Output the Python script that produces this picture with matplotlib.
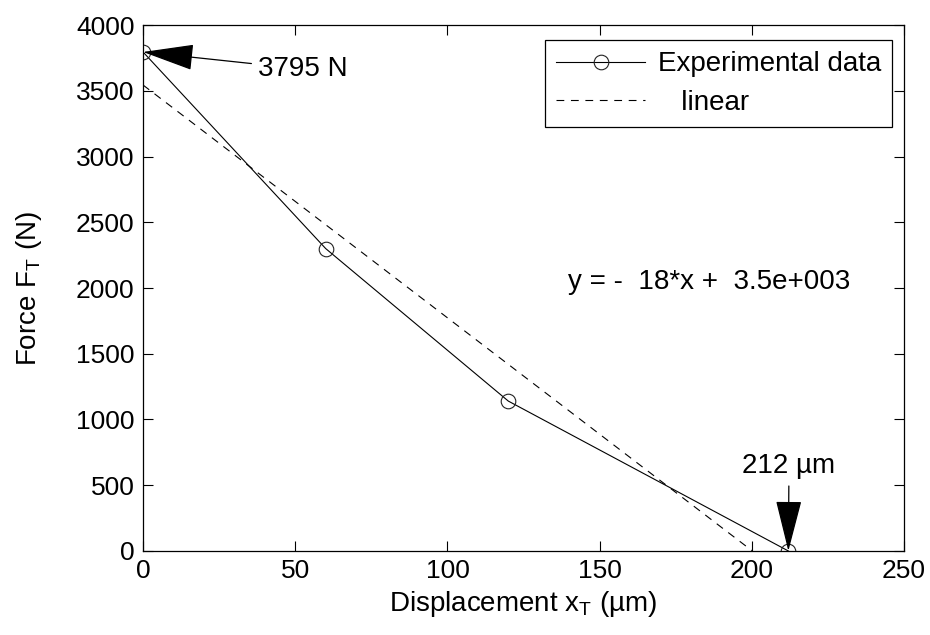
import matplotlib

matplotlib.use("Agg")
import matplotlib.pyplot as plt
import numpy as np

plt.rcParams["font.family"] = ["Liberation Sans", "DejaVu Sans"]
plt.rcParams["mathtext.fontset"] = "custom"
plt.rcParams["mathtext.rm"] = "Liberation Sans"
plt.rcParams["mathtext.it"] = "Liberation Sans"

# measured points
disp_um = [0, 60, 120, 212]
force_n = [3795, 2300, 1140, 0]

# linear fit is drawn only up to where it hits zero
fit_x_range = [0, 200]
fit_text = "y = -  18*x +  3.5e+003"

x_ticks = [0, 50, 100, 150, 200, 250]
y_ticks = [0, 500, 1000, 1500, 2000, 2500, 3000, 3500, 4000]

FS = 20
TICK_FS = 19

fig = plt.figure(figsize=(9.3, 6.35), dpi=100)
ax = fig.add_axes([0.1538, 0.1323, 0.8183, 0.8283])

ax.plot(disp_um, force_n, color="black", lw=0.8, marker="o", ms=10.5,
        mfc="none", mec="#222222", mew=0.8, label="Experimental data")

coef = np.polyfit(disp_um, force_n, 1)
fx = np.linspace(fit_x_range[0], fit_x_range[1], 50)
ax.plot(fx, np.polyval(coef, fx), color="black", lw=0.8,
        linestyle=(0, (7, 6)), label="   linear")

ax.set_xlim(0, 250)
ax.set_ylim(0, 4000)
ax.set_xticks(x_ticks)
ax.set_yticks(y_ticks)
ax.tick_params(direction="in", top=True, right=True, length=7, width=0.8,
               labelsize=TICK_FS, pad=6)
for s in ax.spines.values():
    s.set_linewidth(0.9)

ax.set_xlabel("Displacement x$_{\\mathrm{T}}$ (µm)", fontsize=FS, labelpad=4)
ax.set_ylabel("Force F$_{\\mathrm{T}}$ (N)", fontsize=FS, labelpad=23)

arrow_kw = dict(arrowstyle="-|>,head_length=1.5,head_width=0.38", color="black",
                lw=0.9, mutation_scale=22, shrinkA=3, shrinkB=0)
ax.annotate("3795 N", xy=(disp_um[0], force_n[0]), xytext=(52.6, 3665),
            ha="center", va="center", fontsize=FS, arrowprops=arrow_kw,
            annotation_clip=False)
ax.annotate("212 µm", xy=(disp_um[-1], force_n[-1]), xytext=(212.2, 646),
            ha="center", va="center", fontsize=FS, arrowprops=arrow_kw,
            annotation_clip=False)

ax.text(139.6, 2045, fit_text, ha="left", va="center", fontsize=FS)

leg = ax.legend(loc="upper right", fontsize=FS, frameon=True, fancybox=False,
                edgecolor="black", framealpha=1, borderpad=0.4,
                handlelength=3.2, handletextpad=0.45, labelspacing=0.45,
                borderaxespad=0, bbox_to_anchor=(0.984, 0.971))
leg.get_frame().set_linewidth(0.9)

fig.savefig("out.png", dpi=100)
